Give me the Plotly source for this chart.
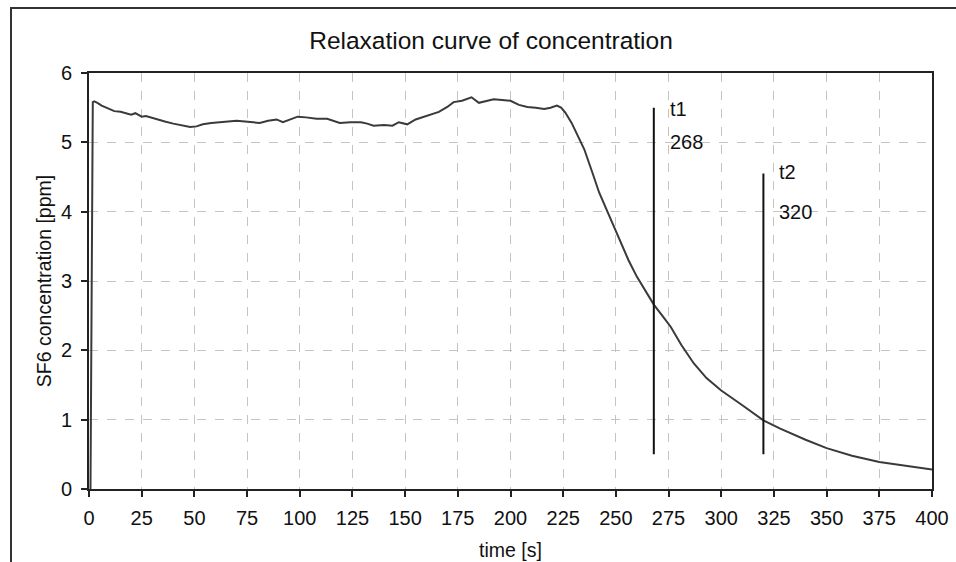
import plotly.graph_objects as go

# ---- data ----
time_s = [0.7, 1.8, 2.5, 4, 6, 9, 12, 15, 18, 20, 22, 25, 27, 30, 33, 36, 40, 44, 48, 51,
          54, 58, 62, 66, 70, 74, 78, 81, 85, 89, 92, 96, 99, 103, 108, 113, 116, 119,
          124, 129, 132, 135, 140, 144, 147, 151, 155, 158, 162, 166, 170, 173, 177,
          180, 181.5, 185, 188, 192, 196, 200, 204, 208, 212, 216, 219, 222, 224, 226,
          229, 232, 235, 239, 242, 246, 252, 256, 260, 264, 268, 272, 276, 281, 287,
          293, 300, 309, 320, 328, 340, 350, 362, 375, 388, 400]
conc_ppm = [0.0, 5.58, 5.59, 5.57, 5.53, 5.49, 5.45, 5.44, 5.41, 5.40, 5.42, 5.37, 5.38,
            5.35, 5.33, 5.30, 5.27, 5.24, 5.22, 5.23, 5.26, 5.28, 5.29, 5.30, 5.31, 5.30,
            5.29, 5.28, 5.31, 5.33, 5.29, 5.34, 5.37, 5.36, 5.34, 5.34, 5.31, 5.28, 5.29,
            5.29, 5.27, 5.24, 5.25, 5.24, 5.29, 5.26, 5.33, 5.36, 5.40, 5.44, 5.51, 5.58,
            5.60, 5.63, 5.65, 5.57, 5.59, 5.62, 5.61, 5.60, 5.54, 5.51, 5.50, 5.48, 5.50,
            5.53, 5.50, 5.43, 5.28, 5.08, 4.90, 4.55, 4.28, 4.00, 3.59, 3.30, 3.06, 2.85,
            2.66, 2.50, 2.34, 2.08, 1.81, 1.60, 1.42, 1.23, 0.99, 0.87, 0.71, 0.59, 0.48,
            0.39, 0.33, 0.28]

marker_names = ["t1", "t2"]
marker_times = [268, 320]
marker_top = [5.5, 4.55]
marker_bottom = [0.5, 0.5]
marker_name_y = [5.48, 4.57]
marker_value_y = [5.0, 4.0]

x_ticks = list(range(0, 401, 25))
y_ticks = [0, 1, 2, 3, 4, 5, 6]

FONT = "Liberation Sans, Arial, sans-serif"
W, H = 956, 562
ML, MR, MT, MB = 89, 24, 73, 73
PW, PH = W - ML - MR, H - MT - MB

fig = go.Figure()
fig.add_trace(go.Scatter(x=time_s, y=conc_ppm, mode="lines",
                         line=dict(color="#3a3a3a", width=2), showlegend=False,
                         hoverinfo="skip"))
for tm, top, bot in zip(marker_times, marker_top, marker_bottom):
    fig.add_trace(go.Scatter(x=[tm, tm], y=[bot, top], mode="lines",
                             line=dict(color="#111111", width=2), showlegend=False,
                             hoverinfo="skip"))

for name, tm, ny, vy in zip(marker_names, marker_times, marker_name_y, marker_value_y):
    for txt, yy in ((name, ny), (str(tm), vy)):
        fig.add_annotation(x=tm, y=yy, text=txt, showarrow=False, xanchor="left",
                           yanchor="middle", xshift=14,
                           font=dict(family=FONT, size=20, color="#111111"))

# outer chart-area frame (partly outside the photographed page)
fig.add_shape(type="rect", xref="paper", yref="paper",
              x0=(11 - ML) / PW, x1=1.3, y0=-0.6, y1=1 + (MT - 8) / PH,
              line=dict(color="#333333", width=2), fillcolor="rgba(0,0,0,0)", layer="below")

axis_common = dict(showline=True, linecolor="#222222", linewidth=2, mirror=True,
                   ticks="outside", ticklen=6, tickwidth=2, tickcolor="#222222",
                   showgrid=True, gridcolor="#c4c4c4", gridwidth=1, griddash="dash",
                   zeroline=False,
                   tickfont=dict(family=FONT, size=20, color="#111111"))

fig.update_xaxes(range=[0, 400], tickvals=x_ticks, ticktext=[str(v) for v in x_ticks],
                 title=dict(text="time [s]", font=dict(family=FONT, size=19.5, color="#111111"),
                            standoff=15),
                 ticklabelstandoff=4, **axis_common)
fig.update_yaxes(range=[0, 6], tickvals=y_ticks, ticktext=[str(v) for v in y_ticks],
                 title=dict(text="SF6 concentration [ppm]",
                            font=dict(family=FONT, size=19.5, color="#111111"), standoff=4),
                 ticklabelstandoff=5, **axis_common)

fig.update_layout(
    width=W, height=H,
    margin=dict(l=ML, r=MR, t=MT, b=MB, autoexpand=False),
    paper_bgcolor="white", plot_bgcolor="white",
    title=dict(text="Relaxation curve of concentration", x=(491 - ML) / PW, xref="paper",
               xanchor="center", y=1 - 40 / H, yanchor="middle",
               font=dict(family=FONT, size=24.5, color="#111111")),
    font=dict(family=FONT),
)

fig.write_html("out.html", config={"displayModeBar": False},
               post_script="document.body.style.margin='0';document.body.style.overflow='hidden';")
